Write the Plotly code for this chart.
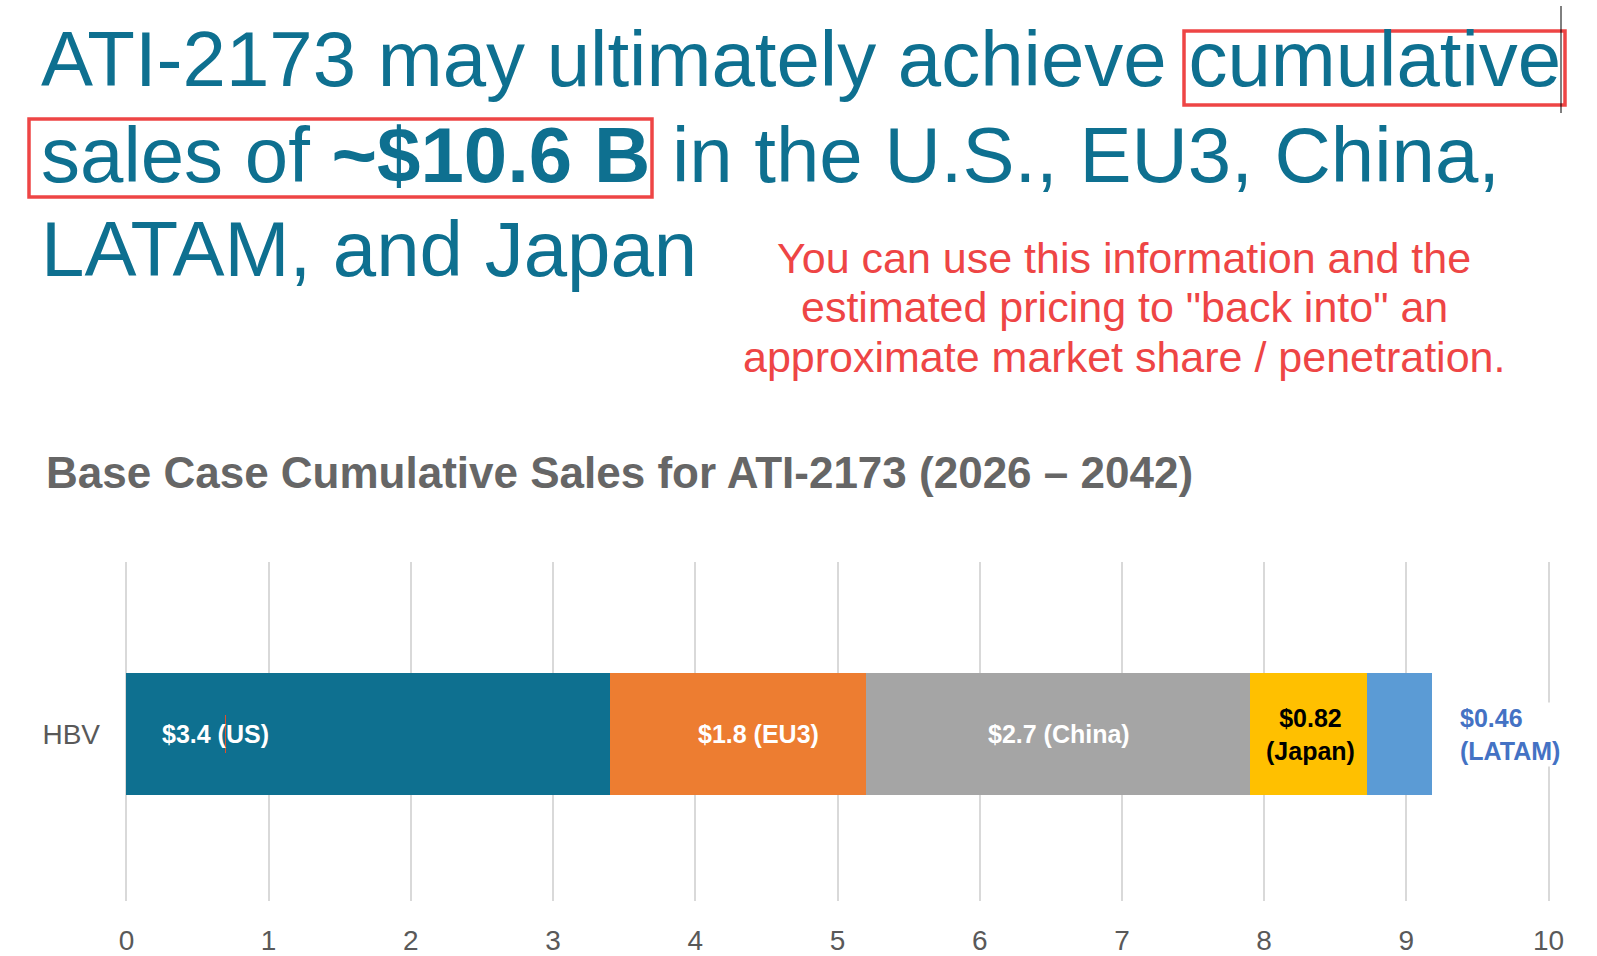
import plotly.graph_objects as go

# ---- data ----
category = ["HBV"]
regions = ["US", "EU3", "China", "Japan", "LATAM"]
sales = [3.4, 1.8, 2.7, 0.82, 0.46]
bar_colors = ["#0E7090", "#ED7D31", "#A5A5A5", "#FFC000", "#5B9BD5"]
label_colors = ["#FFFFFF", "#FFFFFF", "#FFFFFF", "#000000", "#4472C4"]
x_ticks = list(range(0, 11))

headline = [
    "ATI-2173 may ultimately achieve cumulative",
    "sales of <b>~$10.6 B</b> in the U.S., EU3, China,",
    "LATAM, and Japan",
]
note = [
    "You can use this information and the",
    "estimated pricing to \"back into\" an",
    "approximate market share / penetration.",
]
chart_title = "<b>Base Case Cumulative Sales for ATI-2173 (2026 \u2013 2042)</b>"

# ---- layout geometry (pixels) ----
W, H = 1597, 956
L, R, T, B = 125, 47, 562, 55
PW, PH = W - L - R, H - T - B


def px(x):
    return (x - L) / PW


def py(y):
    return (H - B - y) / PH


FONT = "Liberation Sans, Arial, sans-serif"
TEAL = "#0E7090"
RED = "#EE4545"
GRAY = "#595959"

fig = go.Figure()
for r, v, c in zip(regions, sales, bar_colors):
    fig.add_trace(go.Bar(
        x=[v], y=category, orientation="h", name=r,
        marker=dict(color=c, line=dict(width=0)),
        width=0.36, showlegend=False, hoverinfo="x+name",
    ))

annotations = []
# bar labels
base = 0.0
shifts = {"US": 34, "EU3": 21, "China": 1, "Japan": 2, "LATAM": 26}
for r, v, lc in zip(regions, sales, label_colors):
    if r in ("Japan", "LATAM"):
        txt = f"<b>${v:g}<br>({r})</b>"
    else:
        txt = f"<b>${v:g} ({r})</b>"
    if r == "US":
        ax, anc = base, "left"
    elif r == "LATAM":
        ax, anc = base + v, "left"
    else:
        ax, anc = base + v / 2, "center"
    annotations.append(dict(
        x=ax, y=category[0], xref="x", yref="y", text=txt, showarrow=False,
        xanchor=anc, yanchor="middle", xshift=shifts[r], yshift=0,
        align="left" if r == "LATAM" else "center",
        font=dict(family=FONT, size=25, color=lc),
        bgcolor="white" if r == "LATAM" else None,
    ))
    base += v

# headline lines
for line, cy in zip(headline, [59, 155, 249]):
    annotations.append(dict(
        x=px(39), y=py(cy), xref="paper", yref="paper", text=line,
        showarrow=False, xanchor="left", yanchor="middle",
        font=dict(family=FONT, size=78, color=TEAL),
    ))
# red note
for line, cy in zip(note, [258, 307, 357]):
    annotations.append(dict(
        x=px(1124), y=py(cy), xref="paper", yref="paper", text=line,
        showarrow=False, xanchor="center", yanchor="middle",
        font=dict(family=FONT, size=43, color=RED),
    ))
# chart title
annotations.append(dict(
    x=px(44), y=py(472), xref="paper", yref="paper", text=chart_title,
    showarrow=False, xanchor="left", yanchor="middle",
    font=dict(family=FONT, size=44, color="#666666"),
))

shapes = [
    dict(type="rect", xref="paper", yref="paper", x0=px(1184), x1=px(1565),
         y0=py(31), y1=py(105), line=dict(color=RED, width=3.5)),
    dict(type="rect", xref="paper", yref="paper", x0=px(29), x1=px(652),
         y0=py(119), y1=py(197), line=dict(color=RED, width=3.5)),
    dict(type="line", xref="paper", yref="paper", x0=px(1561), x1=px(1561),
         y0=py(6), y1=py(113), line=dict(color="#000000", width=1)),
    dict(type="line", xref="paper", yref="paper", x0=px(225.5), x1=px(225.5),
         y0=py(715), y1=py(753), line=dict(color="#E0502A", width=1)),
]

fig.update_layout(
    width=W, height=H,
    margin=dict(l=L, r=R, t=T, b=B, pad=0, autoexpand=False),
    paper_bgcolor="white", plot_bgcolor="white",
    barmode="stack", bargap=0,
    font=dict(family=FONT, color=GRAY),
    annotations=annotations, shapes=shapes,
    xaxis=dict(
        range=[-0.01, 10.01], tickvals=x_ticks, showgrid=True,
        gridcolor="#D9D9D9", gridwidth=1.5, zeroline=False, showline=False,
        ticks="", tickfont=dict(family=FONT, size=28, color=GRAY),
        ticklabelstandoff=20, fixedrange=True, automargin=False,
    ),
    yaxis=dict(
        range=[-0.492, 0.508], showgrid=False, zeroline=False, showline=False,
        ticks="", tickfont=dict(family=FONT, size=28, color=GRAY),
        ticklabelstandoff=24, fixedrange=True, automargin=False,
    ),
)

fig.write_html("out.html")
